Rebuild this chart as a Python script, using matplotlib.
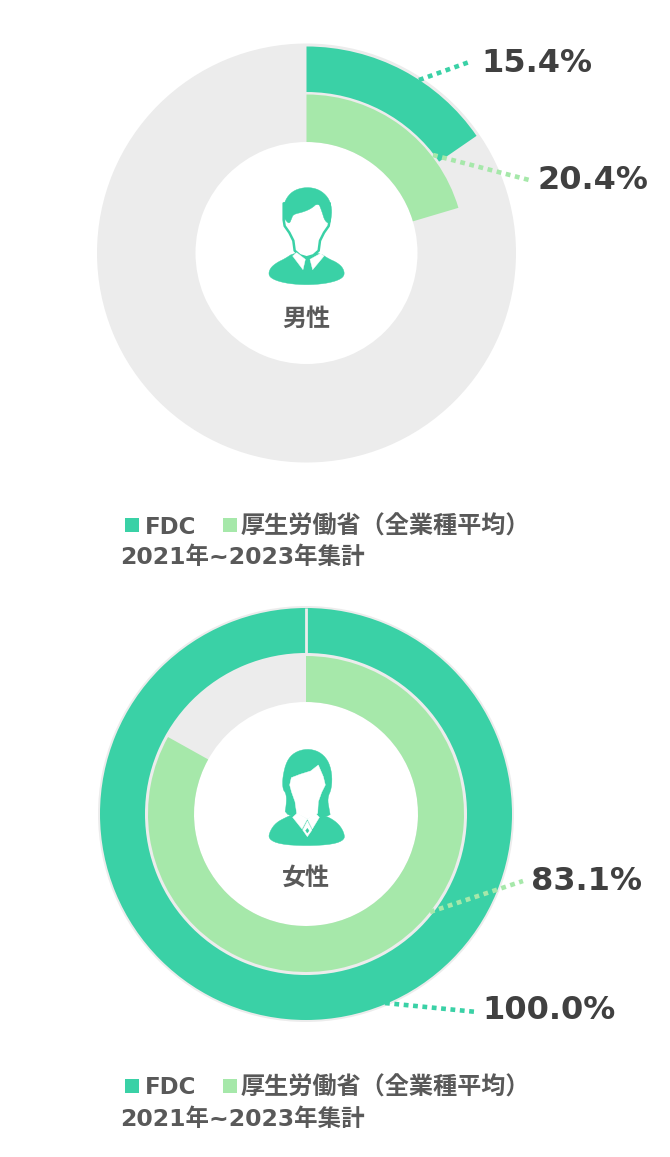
import numpy as np
import matplotlib
matplotlib.use('Agg')
import matplotlib.pyplot as plt
from matplotlib.patches import Rectangle

plt.rcParams['font.family'] = ['DejaVu Sans', 'Noto Sans CJK JP']

W, H = 670, 1157

# values
male_values = [15.4, 20.4]
female_values = [100.0, 83.1]
series_names = ['FDC', '厚生労働省（全業種平均）']
period_label = '2021年~2023年集計'

TEAL = '#3AD1A6'
LIGHT = '#A6E8AA'
GRAY = '#ECECEC'
TXT = '#595959'
DARK = '#404040'

fig = plt.figure(figsize=(W / 100, H / 100), dpi=100)
ax = fig.add_axes([0, 0, 1, 1])


def py(y):
    # picture y (downwards) to axes y
    return H - y


def ring(value, cx, cy, r_out, r_in, color, rest='none', seam=False):
    ax.pie([value, 100 - value], colors=[color, rest], startangle=90, counterclock=False,
           center=(cx, py(cy)), radius=r_out, frame=False,
           wedgeprops=dict(width=r_out - r_in, linewidth=0))
    if seam:
        ax.plot([cx, cx], [py(cy) + r_in, py(cy) + r_out], color=GRAY, lw=2, solid_capstyle='butt')


def poly(points, ox, oy, color, edge=None, soft=False):
    # icon outlines are read in 3x zoomed coordinates
    pts = np.array(points, dtype=float) / 3 + [ox, oy]
    pts[:, 1] = H - pts[:, 1]
    if soft:
        # round the corners a bit
        for _ in range(2):
            nxt = np.roll(pts, -1, axis=0)
            pts = np.column_stack([0.75 * pts + 0.25 * nxt, 0.25 * pts + 0.75 * nxt]).reshape(-1, 2)
    if edge:
        ax.fill(pts[:, 0], pts[:, 1], fc=color, ec=edge, lw=1.8, joinstyle='round')
    else:
        ax.fill(pts[:, 0], pts[:, 1], color=color, lw=0.3)


def male_icon(ox, oy):
    poly([(55, 317), (60, 295), (80, 278), (105, 266), (132, 248), (208, 248), (235, 266), (262, 278),
          (280, 295), (284, 317), (265, 331), (225, 341), (170, 345), (115, 341), (75, 331)],
         ox, oy, TEAL, soft=True)
    poly([(101, 150), (104, 168), (118, 188), (130, 212), (134, 242), (150, 256), (170, 262), (190, 256),
          (206, 242), (210, 212), (222, 188), (236, 168), (239, 150), (239, 100), (101, 100)],
         ox, oy, 'white', edge=TEAL)
    poly([(128, 258), (140, 248), (166, 268), (159, 299)], ox, oy, 'white')
    poly([(212, 250), (222, 258), (188, 299), (180, 268)], ox, oy, 'white')
    poly([(101, 140), (99, 112), (110, 82), (133, 60), (170, 51), (207, 58), (235, 82), (246, 115),
          (243, 150), (238, 162), (224, 152), (216, 125), (205, 97), (185, 115), (160, 126), (130, 133),
          (125, 145), (118, 162), (106, 150)], ox, oy, TEAL, soft=True)


def female_icon(ox, oy):
    poly([(55, 312), (60, 288), (78, 263), (110, 246), (135, 236), (205, 236), (240, 248), (267, 268),
          (282, 293), (284, 314), (250, 328), (170, 333), (90, 328)], ox, oy, TEAL, soft=True)
    poly([(98, 125), (110, 78), (133, 52), (170, 41), (207, 49), (234, 75), (246, 115), (245, 160),
          (232, 190), (238, 225), (242, 247), (103, 247), (110, 200), (108, 175), (98, 162)],
         ox, oy, TEAL, soft=True)
    poly([(124, 128), (119, 150), (125, 172), (135, 200), (140, 235), (172, 252), (203, 235), (205, 200),
          (215, 172), (226, 150), (220, 125), (205, 90), (182, 108), (150, 118)], ox, oy, 'white')
    poly([(128, 247), (142, 234), (172, 252), (156, 282)], ox, oy, 'white')
    poly([(208, 247), (196, 234), (172, 252), (187, 282)], ox, oy, 'white')
    poly([(172, 258), (186, 285), (172, 305), (158, 285)], ox, oy, 'white')
    poly([(172, 280), (177, 287), (172, 294), (167, 287)], ox, oy, TEAL)


def dotted(p0, p1, color):
    ax.plot([p0[0], p1[0]], [py(p0[1]), py(p1[1])], color=color, lw=3.3,
            linestyle=(0, (1.05, 1.0)), dash_capstyle='butt')


def legend(y1, y2):
    ax.add_patch(Rectangle((125, py(y1 - 2)), 14, 14, fc=TEAL, lw=0))
    ax.text(145, py(y1), series_names[0], fontsize=16.5, fontweight='bold', color=TXT, va='baseline')
    ax.add_patch(Rectangle((223, py(y1 - 2)), 14, 14, fc=LIGHT, lw=0))
    ax.text(241, py(y1), series_names[1], fontsize=17.4, fontweight='bold', color=TXT, va='baseline')
    ax.text(120, py(y2), period_label, fontsize=16.9, fontweight='bold', color=TXT, va='baseline')


# male chart
ring(100, 306.5, 253, 209.5, 111, GRAY)
ring(male_values[0], 306.5, 253, 206.5, 161, TEAL)
ring(male_values[1], 306.5, 253, 158.5, 111, LIGHT)
male_icon(250, 170)
ax.text(306, py(319), '男性', fontsize=17.3, fontweight='bold', color=TXT, ha='center', va='center')
dotted((419, 80), (472, 61), TEAL)
dotted((433, 155), (533, 181), LIGHT)
ax.text(481, py(63.5), f'{male_values[0]}%', fontsize=23, fontweight='bold', color=DARK, va='center')
ax.text(538, py(180.5), f'{male_values[1]}%', fontsize=23, fontweight='bold', color=DARK, va='center')
legend(533.5, 564.5)

# female chart
ring(100, 306, 814, 208, 112, GRAY)
ring(female_values[0], 306, 814, 206, 161, TEAL, seam=True)
ring(female_values[1], 306, 814, 158, 112, LIGHT)
female_icon(250, 735)
ax.text(306, py(878), '女性', fontsize=17.3, fontweight='bold', color=TXT, ha='center', va='center')
dotted((430, 912), (523, 881), LIGHT)
dotted((385, 1003), (477, 1012), TEAL)
ax.text(531, py(881.5), f'{female_values[1]}%', fontsize=23, fontweight='bold', color=DARK, va='center')
ax.text(482, py(1010.5), f'{female_values[0]:.1f}%', fontsize=23, fontweight='bold', color=DARK, va='center')
legend(1094.5, 1125.5)

ax.set_xlim(0, W)
ax.set_ylim(0, H)
ax.set_aspect('equal')
ax.axis('off')

fig.savefig('out.png', dpi=100)
